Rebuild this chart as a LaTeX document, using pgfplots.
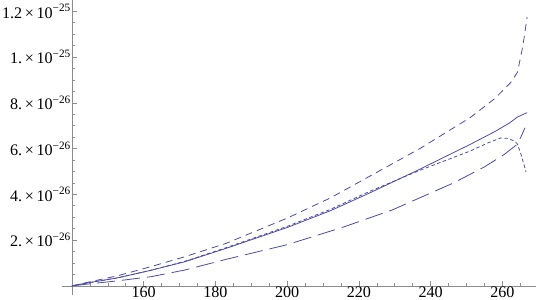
\documentclass[border=0pt]{standalone}
\usepackage{fontspec}
\setmainfont{Liberation Serif}
\usepackage{pgfplots}
\pgfplotsset{compat=1.18}
\definecolor{mma}{rgb}{0.30,0.30,0.66}
\definecolor{axgray}{rgb}{0.55,0.55,0.55}
\begin{document}
\begin{tikzpicture}
\begin{axis}[
  scale only axis,
  width=471bp, height=293bp,
  xmin=137.2, xmax=269.3,
  ymin=-0.4e-26, ymax=12.48e-26,
  axis x line=bottom, axis y line=left,
  axis x line shift=-9.1bp,
  axis y line shift=-9.98bp,
  axis line style={-, draw=axgray, line width=0.6bp},
  tick style={draw=axgray, line width=0.6bp},
  tick align=inside,
  major tick length=5bp, minor tick length=2.8bp,
  xtick={160,180,200,220,240,260},
  minor xtick={145,150,155,165,170,175,185,190,195,205,210,215,225,230,235,245,250,255,265},
  ytick={2e-26,4e-26,6e-26,8e-26,10e-26,12e-26},
  minor ytick={0.5e-26,1e-26,1.5e-26,2.5e-26,3e-26,3.5e-26,4.5e-26,5e-26,5.5e-26,6.5e-26,7e-26,7.5e-26,8.5e-26,9e-26,9.5e-26,10.5e-26,11e-26,11.5e-26},
  scaled y ticks=false,
  yticklabels={{2.\,×\,10\textsuperscript{−26}},{4.\,×\,10\textsuperscript{−26}},{6.\,×\,10\textsuperscript{−26}},{8.\,×\,10\textsuperscript{−26}},{1.\,×\,10\textsuperscript{−25}},{1.2\,×\,10\textsuperscript{−25}}},
  xticklabel style={/pgf/number format/assume math mode=true, yshift=1bp},
  yticklabel style={xshift=1bp},
  tick label style={font=\fontsize{16bp}{19bp}\selectfont, text=black, inner sep=2bp},
  every axis plot/.append style={color=mma, line width=0.8bp},
]
% solid
\addplot[solid] coordinates {
(140,0) (143.3,0.1e-26) (152.7,0.35e-26) (162,0.68e-26) (171.4,1.05e-26) (183,1.64e-26)
(200,2.55e-26) (212,3.28e-26) (223,4.06e-26) (237,5.1e-26) (251,6.18e-26) (258,6.75e-26)
(262,7.12e-26) (264.2,7.38e-26) (266.9,7.57e-26)};
% medium dashed (top)
\addplot[dash pattern=on 7bp off 5bp] coordinates {
(140,0) (143.3,0.12e-26) (152.7,0.44e-26) (162,0.84e-26) (171.4,1.27e-26) (183,1.86e-26)
(200,2.96e-26) (212,3.84e-26) (223,4.79e-26) (237,6.0e-26) (251,7.35e-26) (258,8.2e-26)
(262.4,8.9e-26) (264.2,9.33e-26) (264.9,9.85e-26) (265.6,10.4e-26) (266.1,10.87e-26) (266.9,11.75e-26)};
% short dashed
\addplot[dash pattern=on 3.5bp off 2.5bp] coordinates {
(140,0) (143.3,0.1e-26) (152.7,0.35e-26) (162,0.68e-26) (171.4,1.07e-26) (183,1.67e-26)
(200,2.6e-26) (212,3.34e-26) (223,4.13e-26) (237,5.05e-26) (251,5.89e-26) (256,6.25e-26)
(259.5,6.46e-26) (261.5,6.45e-26) (263.3,6.33e-26) (264.2,6.2e-26) (265.2,5.75e-26) (266.6,4.98e-26)};
% long dashed
\addplot[dash pattern=on 18bp off 7bp] coordinates {
(140,0) (143.3,0.06e-26) (152.7,0.22e-26) (162,0.4e-26) (171.4,0.69e-26) (183,1.16e-26)
(200,1.8e-26) (215.5,2.56e-26) (229.5,3.33e-26) (246.4,4.5e-26) (255,5.2e-26) (260.5,5.74e-26)
(264.1,6.18e-26) (265.3,6.55e-26) (266.3,6.91e-26)};
\end{axis}
\end{tikzpicture}
\end{document}
